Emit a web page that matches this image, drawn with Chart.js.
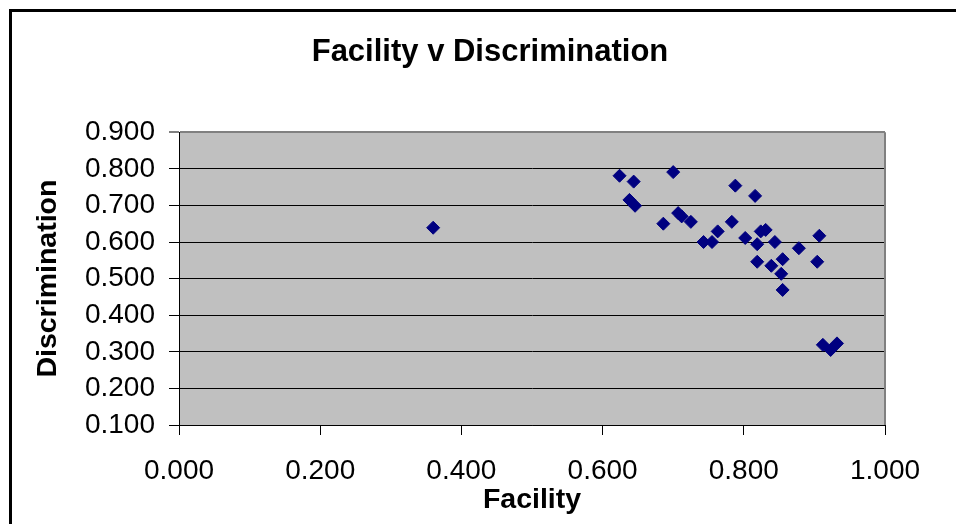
<!DOCTYPE html>
<html>
<head>
<meta charset="utf-8">
<script src="https://cdn.jsdelivr.net/npm/chart.js@4/dist/chart.umd.min.js"></script>
<style>
  html, body { margin: 0; padding: 0; background: #fff; }
  #wrap { width: 956px; height: 524px; }
</style>
</head>
<body>
<div id="wrap"><canvas id="c" width="956" height="524"></canvas></div>
<script>
// Item statistics: facility (x) against discrimination (y)
const facility = [
  0.624, 0.644, 0.700, 0.638, 0.646, 0.788, 0.816, 0.686, 0.707, 0.712, 0.725,
  0.783, 0.763, 0.743, 0.755, 0.802, 0.824, 0.831, 0.819, 0.844, 0.878, 0.907,
  0.819, 0.839, 0.855, 0.853, 0.855, 0.904, 0.912, 0.923, 0.932, 0.360
];
const discrimination = [
  0.781, 0.765, 0.791, 0.715, 0.699, 0.754, 0.726, 0.650, 0.679, 0.670, 0.655,
  0.655, 0.629, 0.600, 0.600, 0.611, 0.629, 0.633, 0.594, 0.600, 0.583, 0.617,
  0.546, 0.535, 0.553, 0.513, 0.469, 0.546, 0.319, 0.305, 0.323, 0.639
];
const xTicks = [0, 0.2, 0.4, 0.6, 0.8, 1.0];
const yTicks = [0.1, 0.2, 0.3, 0.4, 0.5, 0.6, 0.7, 0.8, 0.9];

const FONT = "'Liberation Sans', Arial, sans-serif";
const points = facility.map((f, i) => ({ x: f, y: discrimination[i] }));

// Page frame, grey plot background and the plot's grey right edge
const framePlugin = {
  id: 'frame',
  beforeDraw(chart) {
    const { ctx, chartArea: a } = chart;
    ctx.save();
    ctx.fillStyle = '#ffffff';
    ctx.fillRect(0, 0, chart.width, chart.height);
    ctx.strokeStyle = '#000000';
    ctx.lineWidth = 3;
    ctx.beginPath();
    ctx.moveTo(10.5, chart.height + 5);
    ctx.lineTo(10.5, 10.5);
    ctx.lineTo(chart.width + 5, 10.5);
    ctx.stroke();
    ctx.fillStyle = '#c0c0c0';
    ctx.fillRect(a.left, a.top, a.right - a.left, a.bottom - a.top);
    ctx.restore();
  },
  beforeDatasetsDraw(chart) {
    const { ctx, chartArea: a } = chart;
    ctx.save();
    ctx.strokeStyle = '#808080';
    ctx.lineWidth = 2;
    ctx.beginPath();
    ctx.moveTo(a.right, a.top);
    ctx.lineTo(a.right, a.bottom);
    ctx.stroke();
    ctx.restore();
  }
};

new Chart(document.getElementById('c'), {
  type: 'scatter',
  data: {
    datasets: [{
      data: points,
      pointStyle: 'rectRot',
      pointRadius: 6.5,
      pointHoverRadius: 6.5,
      pointBackgroundColor: '#000080',
      pointBorderColor: '#000080',
      pointBorderWidth: 1
    }]
  },
  options: {
    responsive: false,
    animation: false,
    events: [],
    layout: { padding: { left: 24, right: 0, top: 0, bottom: 0 } },
    plugins: {
      legend: { display: false },
      tooltip: { enabled: false },
      title: {
        display: true,
        text: 'Facility v Discrimination',
        color: '#000',
        font: { family: FONT, size: 31, weight: 'bold', lineHeight: 1.2 },
        padding: { top: 34, bottom: 61 }
      }
    },
    scales: {
      x: {
        type: 'linear',
        min: 0, max: 1,
        afterBuildTicks(s) { s.ticks = xTicks.map(v => ({ value: v })); },
        afterFit(s) { s.height = 99; s.paddingLeft = 0; s.paddingRight = 0; },
        ticks: {
          color: '#000',
          padding: 19,
          maxRotation: 0,
          font: { family: FONT, size: 28 },
          callback: v => Number(v).toFixed(3)
        },
        grid: {
          drawOnChartArea: false,
          drawTicks: true,
          tickLength: 10,
          tickColor: '#000',
          tickWidth: 1
        },
        border: { display: true, color: '#000', width: 1 },
        title: {
          display: true,
          text: 'Facility',
          color: '#000',
          font: { family: FONT, size: 28.5, weight: 'bold', lineHeight: 1.2 },
          padding: { top: 0, bottom: 7 }
        }
      },
      y: {
        type: 'linear',
        position: 'left',
        min: 0.1, max: 0.9,
        afterBuildTicks(s) { s.ticks = yTicks.map(v => ({ value: v })); },
        afterFit(s) { s.width = 155; },
        ticks: {
          color: '#000',
          padding: 14,
          font: { family: FONT, size: 28 },
          callback: v => Number(v).toFixed(3)
        },
        grid: {
          drawOnChartArea: true,
          drawTicks: true,
          tickLength: 10,
          tickColor: '#000',
          tickWidth: 1,
          color: c => (c.tick && Math.abs(c.tick.value - 0.9) < 1e-6) ? '#808080' : '#000000',
          lineWidth: c => (c.tick && Math.abs(c.tick.value - 0.9) < 1e-6) ? 2 : 1
        },
        border: { display: true, color: '#000', width: 1 },
        title: {
          display: true,
          text: 'Discrimination',
          color: '#000',
          font: { family: FONT, size: 28.5, weight: 'bold', lineHeight: 1.2 },
          padding: { top: 7, bottom: 0 }
        }
      },
      // empty right-hand gutter that keeps the plot clear of the page edge
      gutter: {
        type: 'linear',
        position: 'right',
        display: true,
        min: 0, max: 1,
        afterFit(s) { s.width = 71; },
        ticks: { display: false },
        grid: { display: false, drawTicks: false },
        border: { display: false }
      }
    }
  },
  plugins: [framePlugin]
});
</script>
</body>
</html>
